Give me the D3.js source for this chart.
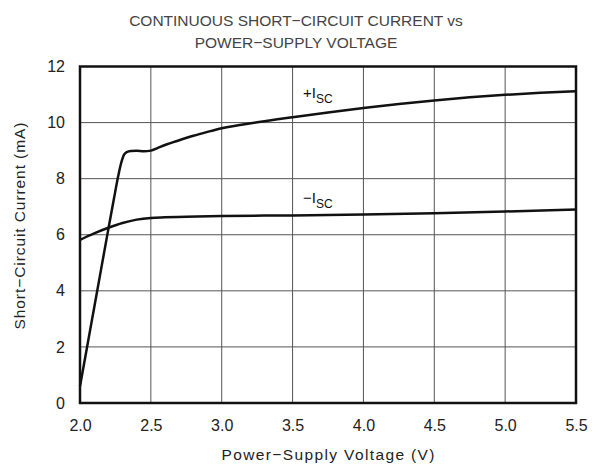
<!DOCTYPE html>
<html><head><meta charset="utf-8">
<script src="https://cdn.jsdelivr.net/npm/d3@7"></script>
<style>body{margin:0;background:#fff}svg{display:block}text{font-family:"Liberation Sans",Arial,sans-serif}</style>
</head><body><svg id="c" width="599" height="466"></svg>
<script>
const xTicks = [2.0, 2.5, 3.0, 3.5, 4.0, 4.5, 5.0, 5.5];
const yTicks = [0, 2, 4, 6, 8, 10, 12];
const titleLines = ["CONTINUOUS SHORT\u2212CIRCUIT CURRENT vs", "POWER\u2212SUPPLY VOLTAGE"];
const xLabel = "Power\u2212Supply Voltage (V)";
const yLabel = "Short\u2212Circuit Current (mA)";
const posV = [2.0, 2.05, 2.1, 2.15, 2.2, 2.24, 2.27, 2.29, 2.31, 2.33, 2.36, 2.4, 2.45, 2.5, 2.55, 2.6, 2.7, 2.8, 2.9, 3.0, 3.25, 3.5, 3.75, 4.0, 4.25, 4.5, 4.75, 5.0, 5.25, 5.5];
const posI = [0.6, 2.0, 3.4, 4.8, 6.2, 7.3, 8.1, 8.55, 8.85, 8.95, 8.99, 9.0, 8.98, 9.0, 9.1, 9.2, 9.37, 9.53, 9.67, 9.8, 10.01, 10.19, 10.36, 10.52, 10.66, 10.79, 10.9, 10.99, 11.06, 11.12];
const negV = [2.0, 2.1, 2.2, 2.3, 2.4, 2.5, 2.6, 2.75, 3.0, 3.5, 4.0, 4.5, 5.0, 5.5];
const negI = [5.82, 6.05, 6.25, 6.42, 6.54, 6.6, 6.62, 6.64, 6.67, 6.69, 6.72, 6.77, 6.83, 6.9];

const svg = d3.select("#c");
const L = 80, R = 576, T = 66.5, B = 403;
const x = d3.scaleLinear().domain([2.0, 5.5]).range([L, R]);
const y = d3.scaleLinear().domain([0, 12]).range([B, T]);

// grid
svg.append("g").selectAll("line").data(xTicks.slice(1, -1)).join("line")
  .attr("x1", d => x(d)).attr("x2", d => x(d)).attr("y1", T).attr("y2", B)
  .attr("stroke", "#555").attr("stroke-width", 1);
svg.append("g").selectAll("line").data(yTicks.slice(1, -1)).join("line")
  .attr("x1", L).attr("x2", R).attr("y1", d => y(d)).attr("y2", d => y(d))
  .attr("stroke", "#555").attr("stroke-width", 1);

// tick labels via axes
const xAxis = svg.append("g").attr("transform", `translate(0,${B})`)
  .call(d3.axisBottom(x).tickValues(xTicks).tickFormat(d3.format(".1f")).tickSize(0).tickPadding(17));
const yAxis = svg.append("g").attr("transform", `translate(${L},0)`)
  .call(d3.axisLeft(y).tickValues(yTicks).tickFormat(d3.format("d")).tickSize(0).tickPadding(15));
[xAxis, yAxis].forEach(a => {
  a.select(".domain").remove();
  a.selectAll("text").attr("font-size", 16).attr("fill", "#222").attr("font-family", "Liberation Sans, Arial, sans-serif");
});

// curves
const line = d3.line().x(d => x(d[0])).y(d => y(d[1])).curve(d3.curveMonotoneX);
svg.append("path").datum(posV.map((v, i) => [v, posI[i]])).attr("d", line)
  .attr("fill", "none").attr("stroke", "#111").attr("stroke-width", 2.5);
svg.append("path").datum(negV.map((v, i) => [v, negI[i]])).attr("d", line)
  .attr("fill", "none").attr("stroke", "#111").attr("stroke-width", 2.5);

// frame
svg.append("rect").attr("x", L).attr("y", T).attr("width", R - L).attr("height", B - T)
  .attr("fill", "none").attr("stroke", "#111").attr("stroke-width", 2.5);

// series labels
function lab(px, py, sign) {
  const t = svg.append("text").attr("x", px).attr("y", py).attr("font-size", 15).attr("fill", "#111");
  t.append("tspan").text(sign + "I");
  t.append("tspan").attr("font-size", 12).attr("dy", 5).text("SC");
}
lab(303, 98, "+");
lab(303, 203, "\u2212");

// titles
svg.append("g").selectAll("text").data(titleLines).join("text")
  .attr("x", 296).attr("y", (d, i) => 26 + i * 22).attr("text-anchor", "middle")
  .attr("font-size", 15.5).attr("fill", "#444").text(d => d);
svg.append("text").attr("x", 328).attr("y", 460).attr("text-anchor", "middle")
  .attr("font-size", 15.5).attr("fill", "#222").attr("textLength", 213).attr("lengthAdjust", "spacing").text(xLabel);
svg.append("text").attr("transform", "translate(25,226) rotate(-90)").attr("text-anchor", "middle")
  .attr("font-size", 15.5).attr("fill", "#222").attr("textLength", 207).attr("lengthAdjust", "spacing").text(yLabel);
</script></body></html>
